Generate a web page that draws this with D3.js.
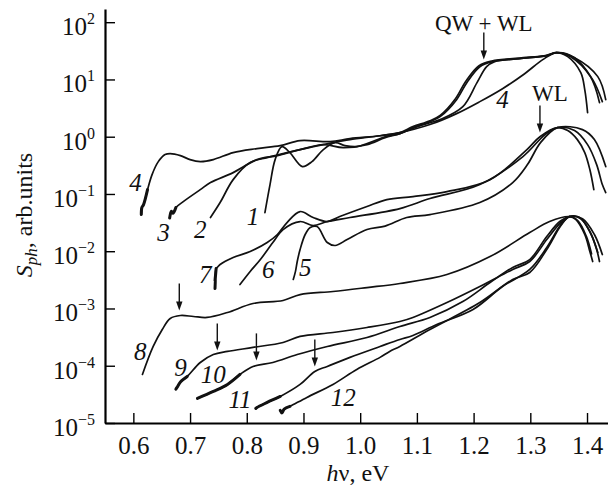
<!DOCTYPE html>
<html>
<head>
<meta charset="utf-8">
<script src="https://cdn.jsdelivr.net/npm/d3@7"></script>
<style>
  html, body { margin: 0; padding: 0; background: #fff; }
  svg { display: block; font-family: "Liberation Serif", "Times New Roman", serif; }
</style>
</head>
<body>
<svg id="chart" width="608" height="489"></svg>
<script>
// photon energy (eV) vs photosensitivity S_ph (arb. units)
const curve1 = [[0.832, 0.0473], [0.841, 0.146], [0.850, 0.398], [0.862, 0.672], [0.876, 0.528], [0.898, 0.301],
  [0.915, 0.367], [0.935, 0.596], [0.956, 0.788], [0.973, 0.700], [0.994, 0.672], [1.017, 0.788], [1.044, 1.00],
  [1.070, 1.13], [1.093, 1.40], [1.123, 1.75], [1.141, 1.99], [1.181, 3.35], [1.206, 8.79], [1.223, 16.7],
  [1.237, 20.5], [1.281, 23.1], [1.329, 26.0], [1.346, 29.4], [1.366, 25.0], [1.389, 13.1], [1.396, 6.64], [1.401, 2.64]];
const curve2 = [[0.736, 0.0388], [0.753, 0.0708], [0.776, 0.178], [0.806, 0.353], [0.836, 0.432], [0.864, 0.507],
  [0.894, 0.596], [0.935, 0.728], [0.970, 0.645], [1.012, 0.728], [1.044, 0.963], [1.070, 1.13], [1.093, 1.44],
  [1.123, 1.83], [1.141, 2.24], [1.170, 4.44], [1.188, 8.79], [1.211, 16.7], [1.234, 20.5], [1.281, 23.1],
  [1.329, 26.0], [1.346, 29.4], [1.371, 25.0], [1.406, 11.2], [1.422, 3.94]];
const curve3 = [[0.664, 0.038], [0.667, 0.050], [0.670, 0.046], [0.675, 0.058], [0.688, 0.0736], [0.718, 0.119],
  [0.736, 0.158], [0.776, 0.236], [0.818, 0.398], [0.854, 0.468], [0.894, 0.596], [0.952, 0.788], [0.982, 0.890],
  [1.035, 1.04], [1.070, 1.18], [1.093, 1.50], [1.123, 1.90], [1.141, 2.35], [1.168, 4.6], [1.186, 9.2],
  [1.209, 17.2], [1.232, 21.0], [1.281, 23.6], [1.329, 26.5], [1.346, 29.4], [1.378, 24.0], [1.419, 11.2], [1.433, 4.44]];
const curve4 = [[0.614, 0.0437], [0.615, 0.058], [0.618, 0.0653], [0.625, 0.119], [0.633, 0.218], [0.644, 0.367],
  [0.656, 0.488], [0.665, 0.507], [0.683, 0.468], [0.700, 0.398], [0.718, 0.367], [0.741, 0.398], [0.776, 0.528],
  [0.818, 0.620], [0.859, 0.700], [0.894, 0.855], [0.947, 0.821], [0.982, 0.927], [1.035, 1.04], [1.070, 1.18],
  [1.123, 1.63], [1.170, 2.53], [1.211, 4.10], [1.251, 6.90], [1.290, 12.6], [1.322, 22.2], [1.346, 29.4],
  [1.378, 24.0], [1.410, 9.93], [1.427, 4.10]];
const curve5 = [[0.882, 0.00321], [0.886, 0.0045], [0.889, 0.00661], [0.894, 0.0107], [0.903, 0.0196], [0.912, 0.0259],
  [0.924, 0.0270], [0.942, 0.0142], [0.956, 0.0126], [0.977, 0.0160], [1.012, 0.0239], [1.044, 0.0275],
  [1.082, 0.0388], [1.123, 0.0437], [1.211, 0.0708], [1.269, 0.158], [1.295, 0.326], [1.318, 0.788], [1.348, 1.44],
  [1.392, 1.33], [1.413, 0.890], [1.433, 0.301]];
const curve6 = [[0.788, 0.00262], [0.806, 0.00443], [0.824, 0.00716], [0.846, 0.0142], [0.864, 0.0239], [0.894, 0.0330],
  [0.917, 0.0281], [0.942, 0.0330], [0.982, 0.0388], [1.070, 0.0556], [1.123, 0.0832], [1.211, 0.146], [1.287, 0.450],
  [1.326, 1.09], [1.348, 1.44], [1.378, 1.28], [1.401, 0.728], [1.417, 0.326], [1.427, 0.146], [1.433, 0.106]];
const curve7 = [[0.744, 0.00223], [0.745, 0.0040], [0.744, 0.0030], [0.746, 0.0050], [0.748, 0.00520], [0.753, 0.00586],
  [0.776, 0.00776], [0.806, 0.00988], [0.836, 0.0142], [0.854, 0.0196], [0.871, 0.0317], [0.894, 0.0493],
  [0.917, 0.0388], [0.942, 0.0330], [0.964, 0.0403], [1.012, 0.0603], [1.047, 0.0798], [1.093, 0.0902],
  [1.153, 0.110], [1.229, 0.178], [1.294, 0.596], [1.317, 1.00], [1.348, 1.44], [1.366, 1.28], [1.383, 0.890],
  [1.396, 0.528], [1.405, 0.267], [1.412, 0.119]];
const curve8 = [[0.616, 7.05e-5], [0.635, 2.17e-4], [0.651, 4.30e-4], [0.665, 6.69e-4], [0.683, 7.55e-4], [0.706, 7.25e-4],
  [0.730, 6.97e-4], [0.766, 8.51e-4], [0.811, 1.22e-3], [0.864, 1.38e-3], [0.894, 1.75e-3], [0.952, 1.98e-3],
  [1.012, 2.32e-3], [1.070, 2.73e-3], [1.153, 3.92e-3], [1.229, 8.07e-3], [1.299, 2.12e-2], [1.334, 3.30e-2],
  [1.369, 4.03e-2], [1.380, 0.036], [1.396, 0.0196], [1.405, 0.00988], [1.410, 0.00661]];
const curve9 = [[0.675, 3.9e-5], [0.677, 4.18e-5], [0.683, 5.2e-5], [0.695, 6.50e-5], [0.718, 1.14e-4], [0.741, 1.57e-4],
  [0.766, 1.78e-4], [0.811, 2.09e-4], [0.864, 2.55e-4], [0.894, 3.25e-4], [0.952, 3.81e-4], [1.012, 4.66e-4],
  [1.070, 5.93e-4], [1.093, 6.97e-4], [1.153, 1.27e-3], [1.211, 2.42e-3], [1.269, 4.80e-3], [1.299, 6.61e-3],
  [1.329, 0.0160], [1.352, 0.0304], [1.369, 0.0403], [1.387, 0.0388], [1.405, 0.0221], [1.417, 0.0107], [1.422, 0.00661]];
const curve10 = [[0.713, 2.69e-5], [0.741, 3.56e-5], [0.766, 4.72e-5], [0.788, 7.05e-5], [0.811, 9.73e-5], [0.846, 1.14e-4],
  [0.889, 1.57e-4], [0.942, 2.17e-4], [1.012, 3.12e-4], [1.070, 4.85e-4], [1.123, 6.97e-4], [1.181, 1.32e-3],
  [1.229, 2.84e-3], [1.269, 5.20e-3], [1.299, 7.16e-3], [1.329, 0.0181], [1.352, 0.0330], [1.369, 0.0403],
  [1.392, 0.037], [1.413, 0.0196], [1.427, 0.00875]];
const curve11 = [[0.816, 1.8e-5], [0.818, 1.87e-5], [0.836, 2.29e-5], [0.859, 2.91e-5], [0.894, 4.72e-5], [0.920, 7.96e-5],
  [0.942, 9.73e-5], [0.982, 1.40e-4], [1.035, 2.17e-4], [1.070, 2.88e-4], [1.093, 3.38e-4], [1.135, 5.26e-4],
  [1.199, 9.61e-4], [1.251, 2.42e-3], [1.299, 4.80e-3], [1.329, 0.0116], [1.354, 0.0292], [1.369, 0.0403],
  [1.389, 0.0370], [1.407, 0.0200], [1.419, 0.0095]];
const curve12 = [[0.859, 1.66e-5], [0.862, 1.5e-5], [0.866, 1.75e-5], [0.876, 1.95e-5], [0.906, 2.80e-5], [0.952, 4.72e-5],
  [0.994, 8.61e-5], [1.035, 1.40e-4], [1.052, 1.78e-4], [1.070, 2.17e-4], [1.123, 4.30e-4], [1.211, 1.27e-3],
  [1.269, 3.21e-3], [1.299, 4.25e-3], [1.329, 0.0107], [1.354, 0.0281], [1.369, 0.0403], [1.384, 0.0340],
  [1.399, 0.0180], [1.408, 0.0090]];

const curves = [curve1, curve2, curve3, curve4, curve5, curve6, curve7, curve8, curve9, curve10, curve11, curve12];

// curves whose low-energy end is noisy (drawn heavier over the first points)
const noisyStarts = [curve3, curve4, curve7, curve9, curve10, curve11, curve12];

// curve numbers with the point they are written at
const curveLabels = [['1', 0.811, 0.0403], ['2', 0.718, 0.0239], ['3', 0.653, 0.0212], ['4', 0.604, 0.158],
  ['4', 1.251, 4.44], ['5', 0.903, 0.0052], ['6', 0.838, 0.0048], ['7', 0.727, 0.00392], ['8', 0.612, 1.78e-4],
  ['9', 0.683, 9.34e-5], ['10', 0.741, 7.05e-5], ['11', 0.788, 2.58e-5], ['12', 0.970, 2.80e-5]];

// arrows: energy, tip value, caption
const arrows = [[1.218, 22.2, 'QW + WL'], [1.317, 1.18, 'WL'], [0.681, 9.2e-4, ''], [0.748, 1.85e-4, ''],
  [0.817, 1.24e-4, ''], [0.920, 9.7e-5, '']];

const xTicks = [0.6, 0.7, 0.8, 0.9, 1.0, 1.1, 1.2, 1.3, 1.4];
const yTicks = [1e-5, 1e-4, 1e-3, 1e-2, 1e-1, 1, 10, 100];
const yExponents = ['\u22125', '\u22124', '\u22123', '\u22122', '\u22121', '0', '1', '2'];

const svg = d3.select('#chart');
const margin = { top: 9, right: 0, bottom: 66, left: 105 };
const width = 608 - margin.left - margin.right;
const height = 489 - margin.top - margin.bottom;

const x = d3.scaleLinear().domain([0.55, 1.437]).range([0, width]);
const y = d3.scaleLog().domain([1e-5, 170]).range([height, 0]);

const g = svg.append('g').attr('transform', `translate(${margin.left},${margin.top})`);

// axes
const xAxis = g.append('g')
  .attr('transform', `translate(0,${height})`)
  .call(d3.axisBottom(x).tickValues(xTicks).tickFormat(d3.format('.1f')).tickSizeInner(-10).tickSizeOuter(0));
xAxis.select('.domain').attr('stroke-width', 2.2);
xAxis.selectAll('.tick line').attr('stroke-width', 1.4);
xAxis.selectAll('.tick text')
  .attr('y', 31).attr('dy', 0)
  .style('font-size', '25px').style('font-family', '"Liberation Serif", serif').attr('fill', '#111');

const yAxis = g.append('g')
  .call(d3.axisLeft(y).tickValues(yTicks).tickFormat('').tickSizeInner(-10).tickSizeOuter(0));
yAxis.select('.domain').attr('stroke-width', 2.2);
yAxis.selectAll('.tick line').attr('stroke-width', 1.4);
yAxis.selectAll('.tick text').remove();
yTicks.forEach((v, i) => {
  const t = g.append('text')
    .attr('x', -10)
    .attr('y', y(v) + 13)
    .attr('text-anchor', 'end')
    .attr('fill', '#111')
    .style('font-size', '25px');
  t.append('tspan').text('10');
  t.append('tspan').attr('dy', -11).style('font-size', '16px').text(yExponents[i]);
});

// axis titles
const xTitle = g.append('text')
  .attr('x', 253)
  .attr('y', 472)
  .attr('text-anchor', 'middle')
  .attr('fill', '#111')
  .style('font-size', '24px');
xTitle.append('tspan').style('font-style', 'italic').text('h');
xTitle.append('tspan').text('\u03bd, eV');

const yTitle = svg.append('text')
  .attr('transform', 'translate(32,215) rotate(-90)')
  .attr('text-anchor', 'middle')
  .attr('fill', '#111')
  .style('font-size', '24px');
yTitle.append('tspan').style('font-style', 'italic').text('S');
yTitle.append('tspan').style('font-style', 'italic').style('font-size', '17px').attr('dy', 5).text('ph');
yTitle.append('tspan').attr('dy', -5).text(', arb.units');

// spectra
const line = d3.line()
  .x(d => x(d[0]))
  .y(d => y(d[1]))
  .curve(d3.curveCatmullRom.alpha(0.5));

g.append('g')
  .selectAll('path')
  .data(curves)
  .enter()
  .append('path')
  .attr('d', line)
  .attr('fill', 'none')
  .attr('stroke', '#111')
  .attr('stroke-width', 1.7)
  .attr('stroke-linejoin', 'round')
  .attr('stroke-linecap', 'round');

g.append('g')
  .selectAll('path')
  .data(noisyStarts.map(c => c.slice(0, 4)))
  .enter()
  .append('path')
  .attr('d', line)
  .attr('fill', 'none')
  .attr('stroke', '#111')
  .attr('stroke-width', 3)
  .attr('stroke-linecap', 'round');

// curve numbers
g.append('g')
  .selectAll('text')
  .data(curveLabels)
  .enter()
  .append('text')
  .attr('x', d => x(d[1]))
  .attr('y', d => y(d[2]))
  .attr('dy', '0.35em')
  .attr('text-anchor', 'middle')
  .attr('fill', '#111')
  .style('font-style', 'italic')
  .style('font-size', '25px')
  .text(d => d[0]);

// arrows with captions
const arrowLen = 27;
arrows.forEach((a) => {
  const ax = x(a[0]);
  const tip = y(a[1]);
  g.append('line')
    .attr('x1', ax).attr('x2', ax)
    .attr('y1', tip - arrowLen).attr('y2', tip - 6)
    .attr('stroke', '#111')
    .attr('stroke-width', 1.4);
  g.append('path')
    .attr('d', `M${ax - 3.2},${tip - 9}L${ax + 3.2},${tip - 9}L${ax},${tip}Z`)
    .attr('fill', '#111');
  if (a[2]) {
    g.append('text')
      .attr('x', a[2] === 'WL' ? ax + 10 : ax)
      .attr('y', tip - arrowLen - (a[2] === 'WL' ? 5 : 2))
      .attr('text-anchor', 'middle')
      .attr('fill', '#111')
      .style('font-size', '23px')
      .text(a[2]);
  }
});
</script>
</body>
</html>
